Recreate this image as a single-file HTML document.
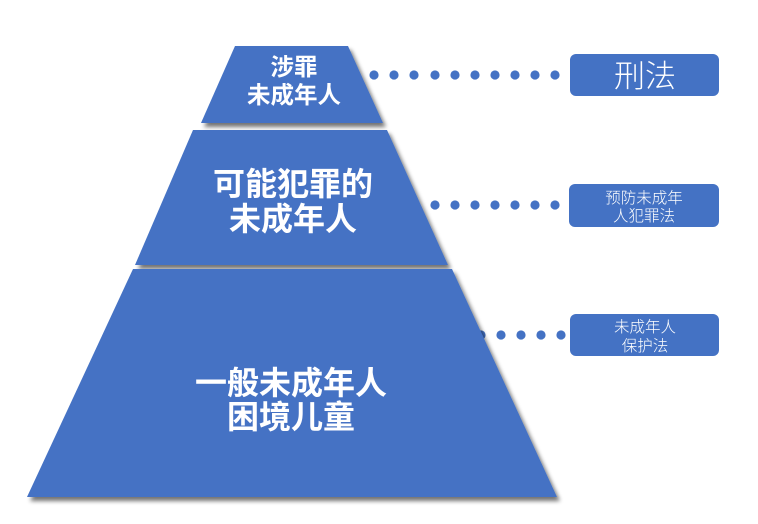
<!DOCTYPE html>
<html>
<head>
<meta charset="utf-8">
<style>
  html,body{margin:0;padding:0;background:#ffffff;}
  body{width:758px;height:524px;overflow:hidden;}
  svg{display:block;}
  .py{font-family:"Liberation Sans","Noto Sans CJK SC",sans-serif;font-weight:bold;fill:#ffffff;text-anchor:middle;}
  .bx{font-family:"Liberation Sans","Noto Sans CJK SC",sans-serif;font-weight:300;fill:#ffffff;text-anchor:middle;}
</style>
</head>
<body>
<svg width="758" height="524" viewBox="0 0 758 524" xmlns="http://www.w3.org/2000/svg">
  <defs>
    <filter id="sh" x="-20%" y="-20%" width="140%" height="140%">
      <feGaussianBlur in="SourceAlpha" stdDeviation="2.2"/>
      <feOffset dx="3" dy="4" result="b"/>
      <feComponentTransfer><feFuncA type="linear" slope="0.55"/></feComponentTransfer>
      <feMerge><feMergeNode/><feMergeNode in="SourceGraphic"/></feMerge>
    </filter>
  </defs>

  <!-- dots -->
  <g fill="#4472C4">
    <circle cx="374" cy="75" r="4.6"/><circle cx="394" cy="75" r="4.6"/><circle cx="414" cy="75" r="4.6"/>
    <circle cx="435" cy="75" r="4.6"/><circle cx="455" cy="75" r="4.6"/><circle cx="475" cy="75" r="4.6"/>
    <circle cx="495" cy="75" r="4.6"/><circle cx="515" cy="75" r="4.6"/><circle cx="535" cy="75" r="4.6"/>
    <circle cx="555" cy="75" r="4.6"/>

    <circle cx="435" cy="205" r="4.6"/><circle cx="455" cy="205" r="4.6"/><circle cx="475" cy="205" r="4.6"/>
    <circle cx="495" cy="205" r="4.6"/><circle cx="515" cy="205" r="4.6"/><circle cx="535" cy="205" r="4.6"/>
    <circle cx="555" cy="205" r="4.6"/>

    <circle cx="481" cy="335" r="4.6"/><circle cx="501" cy="335" r="4.6"/><circle cx="521" cy="335" r="4.6"/>
    <circle cx="541" cy="335" r="4.6"/><circle cx="561" cy="335" r="4.6"/>
  </g>

  <!-- pyramid -->
  <g fill="#4472C4" filter="url(#sh)">
    <polygon points="235,46 348,46 383,123 201,123"/>
    <polygon points="193,130 387,130 448,265 135,265"/>
    <polygon points="133,269 452,269 557,497 27,497"/>
  </g>

  <!-- pyramid text -->
  <text class="py" x="294" y="75" font-size="23.5">涉罪</text>
  <text class="py" x="294" y="103" font-size="23.5">未成年人</text>

  <text class="py" x="293" y="195" font-size="32">可能犯罪的</text>
  <text class="py" x="293" y="230" font-size="32">未成年人</text>

  <text class="py" x="291" y="394" font-size="32">一般未成年人</text>
  <text class="py" x="291" y="428" font-size="32">困境儿童</text>

  <!-- boxes -->
  <g fill="#4472C4">
    <rect x="570" y="54" width="149" height="42" rx="6" ry="6"/>
    <rect x="569" y="184" width="150" height="43" rx="6" ry="6"/>
    <rect x="570" y="314" width="149" height="42" rx="6" ry="6"/>
  </g>
  <text class="bx" x="645" y="87" font-size="31">刑法</text>
  <text class="bx" x="644" y="203" font-size="15.5">预防未成年</text>
  <text class="bx" x="644" y="221" font-size="15.5">人犯罪法</text>
  <text class="bx" x="645" y="332" font-size="15.5">未成年人</text>
  <text class="bx" x="645" y="351" font-size="15.5">保护法</text>
</svg>
</body>
</html>
